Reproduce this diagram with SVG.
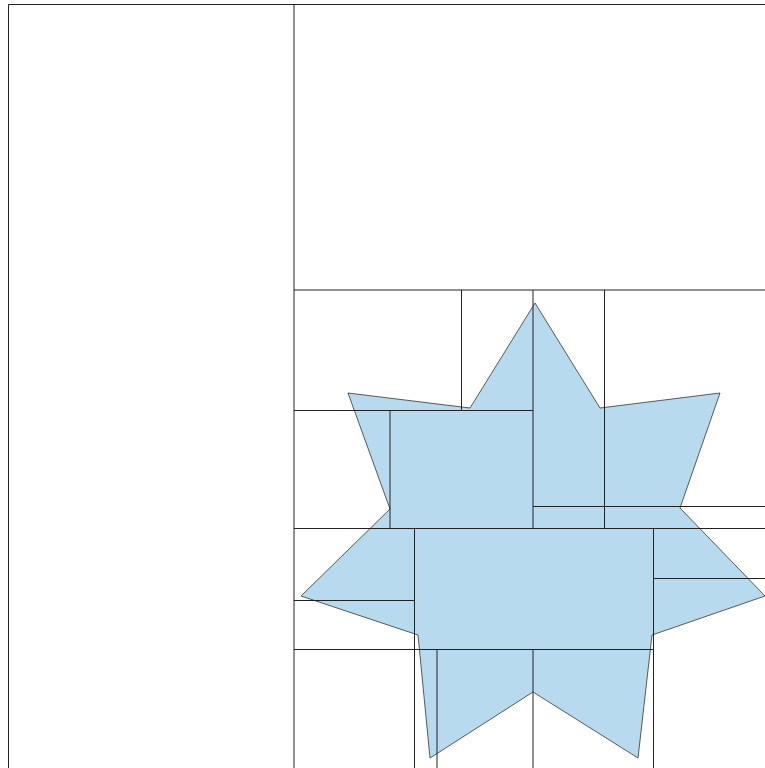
<svg xmlns="http://www.w3.org/2000/svg" width="765" height="768" viewBox="0 0 765 768">
<style>
.ln{stroke:#222;stroke-width:1;fill:none}
.star{fill:#b8daee;stroke:#333;stroke-width:0.8}
</style>
<rect width="765" height="768" fill="#fff"/>
<g id="star">
<polygon class="star" points="535,303 600,408 720,393 680,508 765,596 652,635 638,758 533,692 430,758 418,635 301,596 390,509 348,393 470,408"/>
</g>
<g id="grid">
<path class="ln" d="M8.5,768 V4.5 H765"/>
<path class="ln" d="M294,4 V768"/>
<path class="ln" d="M294,290 H765"/>
<path class="ln" d="M461.5,290 V410"/>
<path class="ln" d="M533,290 V528.5"/>
<path class="ln" d="M604.5,290 V528.5"/>
<path class="ln" d="M294,410.5 H533"/>
<path class="ln" d="M390,410 V528.5"/>
<path class="ln" d="M533,506.5 H765"/>
<path class="ln" d="M294,528.5 H765"/>
<path class="ln" d="M414.5,528.5 V768"/>
<path class="ln" d="M294,600.5 H414.5"/>
<path class="ln" d="M653.5,528.5 V768"/>
<path class="ln" d="M653.5,578.5 H765"/>
<path class="ln" d="M294,649.5 H653.5"/>
<path class="ln" d="M437,649.5 V768"/>
<path class="ln" d="M533,649.5 V768"/>
</g>
</svg>
